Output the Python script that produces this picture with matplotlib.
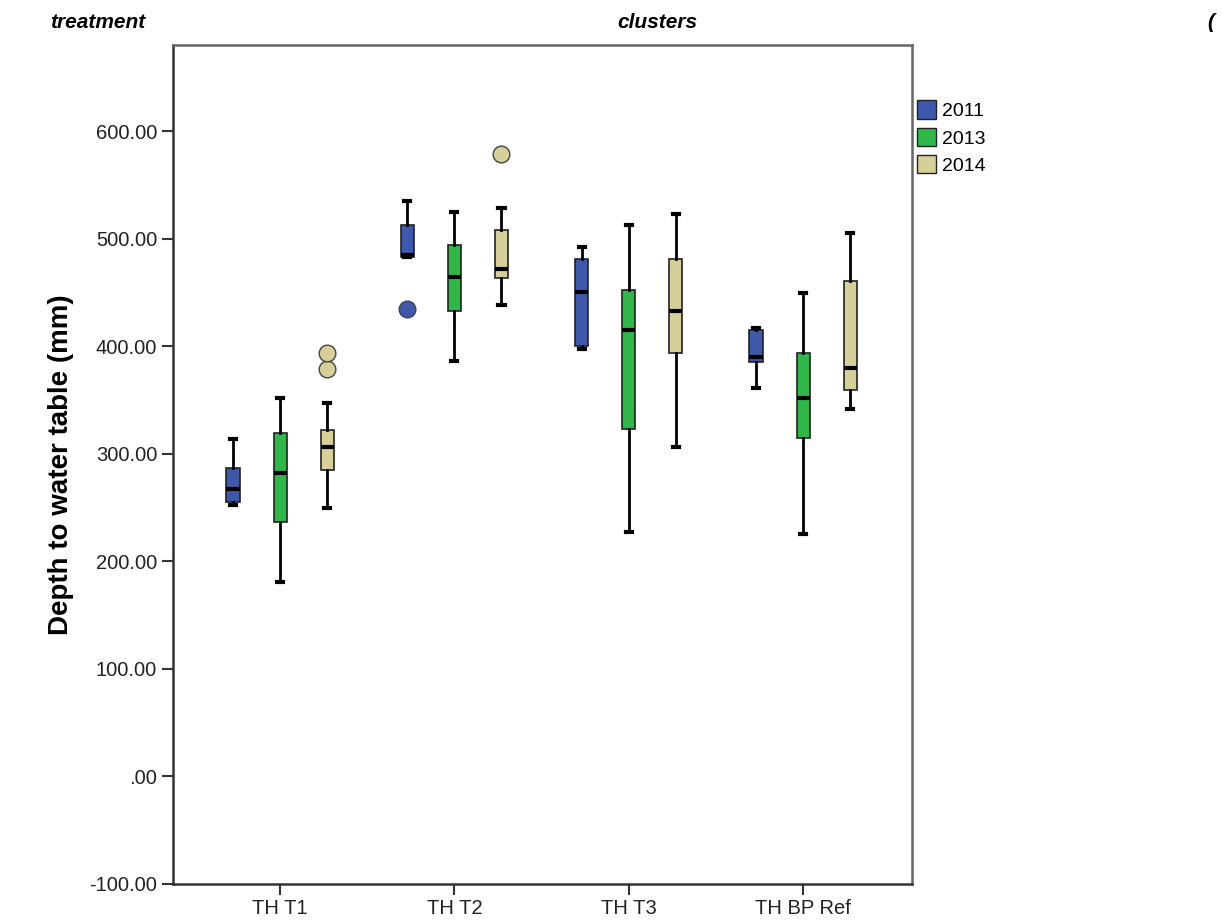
import numpy as np
import matplotlib.pyplot as plt
from matplotlib.patches import Patch

plt.rcParams['font.family'] = ['Liberation Sans', 'DejaVu Sans']

# groups and years
sites = ["TH T1", "TH T2", "TH T3", "TH BP Ref"]
years = ["2011", "2013", "2014"]
colors = ["#3e58ac", "#2fb847", "#d5cf98"]

# box statistics per year, one value per site
whislo = {
    "2011": [252, 483, 397, 361],
    "2013": [181, 386, 227, 225],
    "2014": [250, 438, 306, 342],
}
q1 = {
    "2011": [255, 483, 400, 385],
    "2013": [237, 433, 323, 315],
    "2014": [285, 463, 394, 359],
}
med = {
    "2011": [267, 485, 450, 390],
    "2013": [282, 464, 415, 352],
    "2014": [306, 472, 433, 380],
}
q3 = {
    "2011": [287, 513, 481, 415],
    "2013": [319, 494, 452, 394],
    "2014": [322, 508, 481, 461],
}
whishi = {
    "2011": [314, 535, 492, 417],
    "2013": [352, 525, 513, 449],
    "2014": [347, 528, 523, 505],
}
fliers = {
    "2011": [[], [435], [], []],
    "2013": [[], [], [], []],
    "2014": [[379, 394], [579], [], []],
}

fig = plt.figure(figsize=(12.23, 9.24), dpi=100)
ax = fig.add_axes([0.1415, 0.0433, 0.6042, 0.908])

offsets = [-0.27, 0.0, 0.27]
centers = np.arange(1, len(sites) + 1)

for k, yr in enumerate(years):
    stats = []
    for i in range(len(sites)):
        stats.append(dict(whislo=whislo[yr][i], q1=q1[yr][i], med=med[yr][i],
                          q3=q3[yr][i], whishi=whishi[yr][i], fliers=fliers[yr][i]))
    ax.bxp(stats, positions=centers + offsets[k], widths=0.075, capwidths=0.035,
           patch_artist=True, manage_ticks=False,
           boxprops=dict(facecolor=colors[k], edgecolor="#222222", linewidth=1.2),
           medianprops=dict(color="black", linewidth=3),
           whiskerprops=dict(color="black", linewidth=2),
           capprops=dict(color="black", linewidth=3),
           flierprops=dict(marker="o", markersize=12, markerfacecolor=colors[k],
                           markeredgecolor="#444444", markeredgewidth=1))

ax.set_xlim(0.386, 4.625)
ax.set_ylim(-100, 680)
ax.set_yticks(np.arange(-100, 601, 100))
ax.set_yticklabels(["-100.00", ".00", "100.00", "200.00", "300.00",
                    "400.00", "500.00", "600.00"], fontsize=14.5, color="#222222")
ax.set_xticks(centers)
ax.set_xticklabels(sites, fontsize=14.5, color="#222222")
ax.tick_params(axis="both", length=8, width=1.5, color="#333333", direction="out")
ax.tick_params(axis="x", pad=3)
ax.set_ylabel("Depth to water table (mm)", fontsize=20, fontweight="bold", labelpad=11)

for side in ["left", "bottom"]:
    ax.spines[side].set_color("#333333")
    ax.spines[side].set_linewidth(1.8)
for side in ["top", "right"]:
    ax.spines[side].set_color("#666666")
    ax.spines[side].set_linewidth(1.8)

handles = [Patch(facecolor=c, edgecolor="#222222", label=y) for c, y in zip(colors, years)]
fig.legend(handles=handles, loc="upper left", bbox_to_anchor=(0.739, 0.906),
           frameon=False, fontsize=14, handlelength=0.95, handleheight=1.05,
           handletextpad=0.3, labelspacing=0.4, borderpad=0.2)

# stray caption words above the plot
for x, s in [(0.041, "treatment"), (0.505, "clusters"), (0.987, "(")]:
    fig.text(x, 0.976, s, fontsize=15, fontweight="bold", fontstyle="italic", va="center")

fig.savefig("out.png", dpi=100)
